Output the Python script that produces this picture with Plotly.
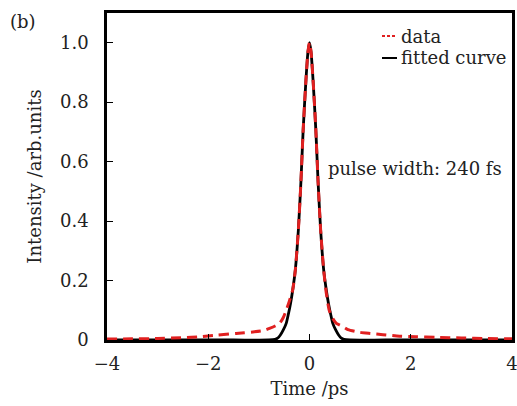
import plotly.graph_objects as go

# ---- data ----
data_t = [-4.0, -3.5, -3.0, -2.5, -2.17, -1.84, -1.45, -1.12, -0.9, -0.79, -0.68, -0.59,
          -0.52, -0.46, -0.40, -0.33, -0.28, -0.22, -0.17, -0.125, -0.07, -0.03, 0.0,
          0.03, 0.07, 0.125, 0.17, 0.22, 0.28, 0.33, 0.39, 0.46, 0.53, 0.66, 0.76,
          0.99, 1.2, 1.45, 1.78, 2.1, 2.5, 3.0, 3.5, 4.0]
data_i = [0.003, 0.004, 0.005, 0.008, 0.011, 0.016, 0.022, 0.027, 0.032, 0.039, 0.047, 0.056,
          0.075, 0.10, 0.13, 0.17, 0.236, 0.37, 0.53, 0.707, 0.875, 0.97, 1.0,
          0.97, 0.875, 0.707, 0.53, 0.37, 0.236, 0.16, 0.10, 0.072, 0.056, 0.045, 0.035,
          0.026, 0.022, 0.018, 0.013, 0.011, 0.009, 0.007, 0.005, 0.004]

fit_t = [-4.0, -1.5, -0.8, -0.68, -0.63, -0.575, -0.52, -0.46, -0.42, -0.375, -0.33, -0.28,
         -0.22, -0.17, -0.125, -0.07, -0.03, 0.0, 0.03, 0.07, 0.125, 0.17, 0.22, 0.28,
         0.33, 0.375, 0.42, 0.46, 0.52, 0.575, 0.63, 0.68, 0.8, 1.5, 4.0]
fit_i = [0.0, 0.0, 0.0, 0.002, 0.006, 0.017, 0.033, 0.056, 0.085, 0.123, 0.17, 0.236,
         0.37, 0.53, 0.707, 0.875, 0.97, 1.0, 0.97, 0.875, 0.707, 0.53, 0.37, 0.236,
         0.17, 0.123, 0.085, 0.056, 0.033, 0.017, 0.006, 0.002, 0.0, 0.0, 0.0]

x_tickvals = [-4, -2, 0, 2, 4]
x_ticktext = ["\u22124", "\u22122", "0", "2", "4"]
y_tickvals = [0, 0.2, 0.4, 0.6, 0.8, 1.0]
y_ticktext = ["0", "0.2", "0.4", "0.6", "0.8", "1.0"]

FONT = "DejaVu Serif"
TXT = "#222222"
FS = 18

fig = go.Figure()
fig.add_trace(go.Scatter(x=fit_t, y=fit_i, mode="lines", name="fitted curve",
                         line=dict(color="black", width=2.8, shape="spline", smoothing=0.6),
                         showlegend=False))
fig.add_trace(go.Scatter(x=data_t, y=data_i, mode="lines", name="data",
                         line=dict(color="#e02020", width=3, dash="10px,6px",
                                   shape="spline", smoothing=0.6),
                         showlegend=False))

W, H = 517, 406
L, R, T, B = 107, 5, 13, 66
pw, ph = W - L - R, H - T - B


def px(x):
    return (x - L) / pw


def py(y):
    return (H - B - y) / ph


# manual legend (short sample lines as in the reference)
fig.add_shape(type="line", xref="paper", yref="paper", x0=px(382), x1=px(397),
              y0=py(36), y1=py(36), line=dict(color="#e02020", width=2, dash="3px,2px"))
fig.add_shape(type="line", xref="paper", yref="paper", x0=px(382), x1=px(397),
              y0=py(58), y1=py(58), line=dict(color="black", width=2))
fig.add_annotation(text="data", xref="paper", yref="paper", x=px(399), y=py(36),
                   xanchor="left", yanchor="middle", showarrow=False,
                   font=dict(family=FONT, size=FS, color=TXT))
fig.add_annotation(text="fitted curve", xref="paper", yref="paper", x=px(399), y=py(58),
                   xanchor="left", yanchor="middle", showarrow=False,
                   font=dict(family=FONT, size=FS, color=TXT))
fig.add_annotation(text="pulse width: 240 fs", xref="paper", yref="paper", x=px(326), y=py(168),
                   xanchor="left", yanchor="middle", showarrow=False,
                   font=dict(family=FONT, size=FS, color=TXT))
fig.add_annotation(text="(b)", xref="paper", yref="paper", x=px(8), y=py(22),
                   xanchor="left", yanchor="middle", showarrow=False,
                   font=dict(family=FONT, size=FS, color=TXT))

axis_common = dict(showline=True, linecolor="black", linewidth=2.5, mirror=True,
                   ticks="inside", ticklen=6, tickwidth=1, tickcolor="black",
                   showgrid=False, zeroline=False, ticklabeloverflow="allow",
                   tickfont=dict(family=FONT, size=FS, color=TXT))

fig.update_xaxes(range=[-4, 4], tickvals=x_tickvals, ticktext=x_ticktext,
                 title=dict(text="Time /ps", font=dict(family=FONT, size=FS, color=TXT), standoff=10),
                 ticklabelstandoff=6, **axis_common)
fig.update_yaxes(range=[0, 1.10], tickvals=y_tickvals, ticktext=y_ticktext,
                 title=dict(text="Intensity /arb.units", font=dict(family=FONT, size=FS, color=TXT), standoff=14),
                 ticklabelstandoff=12, **axis_common)

fig.update_layout(width=W, height=H, margin=dict(l=L, r=R, t=T, b=B, autoexpand=False),
                  paper_bgcolor="white", plot_bgcolor="white", showlegend=False)

fig.write_html("out.html", config={"displayModeBar": False},
               post_script="document.body.style.margin='0';document.body.style.overflow='hidden';")
